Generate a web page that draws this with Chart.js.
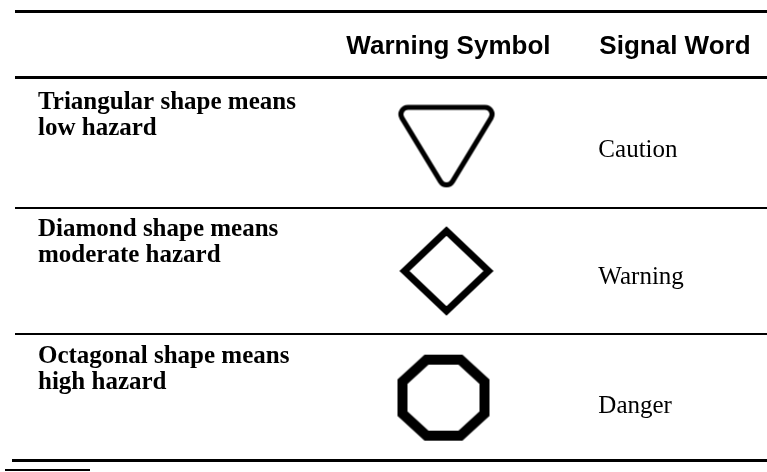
<!DOCTYPE html>
<html>
<head>
<meta charset="utf-8">
<script src="https://cdn.jsdelivr.net/npm/chart.js@4.4.0/dist/chart.umd.min.js"></script>
<style>
  html, body { margin: 0; padding: 0; background: #fff; }
  #wrap { width: 767px; height: 472px; position: relative; }
</style>
</head>
<body>
<div id="wrap"><canvas id="hazardChart"></canvas></div>
<script>
// table content
var headers = ['Warning Symbol', 'Signal Word'];
var hazardLines = [
    ['Triangular shape means', 'low hazard'],
    ['Diamond shape means', 'moderate hazard'],
    ['Octagonal shape means', 'high hazard']
];
var signalWords = ['Caution', 'Warning', 'Danger'];
var symbolShapes = ['triangle', 'diamond', 'octagon'];
var symbolColumn = 1;
var wordColumn = 2;

// SYMBOL IMAGES
function makeSymbol(shape) {
    var c = document.createElement('canvas');
    var g = c.getContext('2d');
    g.strokeStyle = '#000';
    if (shape === 'triangle') {
        c.width = 110; c.height = 100;
        g.lineWidth = 5;
        g.lineJoin = 'round';
        var pts = [[4, 14], [106, 14], [55, 98]];
        g.beginPath();
        g.moveTo(55, 14);
        for (var i = 1; i <= 3; i++) {
            var p = pts[i % 3], q = pts[(i + 1) % 3];
            g.arcTo(p[0], p[1], q[0], q[1], 7);
        }
        g.closePath();
        g.stroke();
    } else if (shape === 'diamond') {
        c.width = 100; c.height = 100;
        g.lineWidth = 7;
        g.lineJoin = 'miter';
        g.beginPath();
        g.moveTo(50, 11);
        g.lineTo(92, 51);
        g.lineTo(50, 91);
        g.lineTo(8, 51);
        g.closePath();
        g.stroke();
    } else {
        c.width = 104; c.height = 96;
        g.lineWidth = 10;
        g.lineJoin = 'miter';
        var rx = 41, ry = 38, ax = 17, ay = 16, cx = 49, cy = 49;
        g.beginPath();
        g.moveTo(cx - ax, cy - ry);
        g.lineTo(cx + ax, cy - ry);
        g.lineTo(cx + rx, cy - ay);
        g.lineTo(cx + rx, cy + ay);
        g.lineTo(cx + ax, cy + ry);
        g.lineTo(cx - ax, cy + ry);
        g.lineTo(cx - rx, cy + ay);
        g.lineTo(cx - rx, cy - ay);
        g.closePath();
        g.stroke();
    }
    return c;
}

function drawText(ctx, txt, x, y, font, align) {
    ctx.font = font;
    ctx.textAlign = align;
    ctx.textBaseline = 'alphabetic';
    ctx.fillText(txt, x, y);
}

// rules and text
var tablePlugin = {
    id: 'tableText',
    afterDraw: function (chart) {
        var ctx = chart.ctx;
        var xs = chart.scales.x, ys = chart.scales.y;
        var area = chart.chartArea;
        var W = chart.width;
        ctx.save();
        ctx.fillStyle = '#000';

        // horizontal rules
        ctx.fillRect(15, 10, W - 15, 3);
        ctx.fillRect(15, area.top - 4, W - 15, 3);
        ctx.fillRect(12, area.bottom - 1, W - 12, 3);
        ctx.fillRect(5, area.bottom + 9, 85, 2);
        var step = (area.bottom - area.top) / signalWords.length;
        for (var i = 1; i < signalWords.length; i++) {
            var yy = Math.round(ys.getPixelForValue(i) - step / 2);
            ctx.fillRect(15, yy, W - 15, 2);
        }

        // header
        var hFont = 'bold 26px "Liberation Sans", Arial, sans-serif';
        drawText(ctx, headers[0], xs.getPixelForValue(symbolColumn) + 2, 54, hFont, 'center');
        drawText(ctx, headers[1], xs.getPixelForValue(wordColumn) + 1, 54, hFont, 'left');

        // rows
        var lFont = 'bold 25px "Liberation Serif", "Times New Roman", serif';
        var wFont = '25px "Liberation Serif", "Times New Roman", serif';
        signalWords.forEach(function (word, i) {
            var cy = ys.getPixelForValue(i);
            hazardLines[i].forEach(function (line, j) {
                drawText(ctx, line, area.left + 23, cy - 34 + j * 26, lFont, 'left');
            });
            drawText(ctx, word, xs.getPixelForValue(wordColumn), cy + 14 + (i === 2 ? 2 : 0), wFont, 'left');
        });
        ctx.restore();
    }
};

var ctx = document.getElementById('hazardChart').getContext('2d');
window.hazardChart = new Chart(ctx, {
    type: 'scatter',
    data: {
        datasets: [{
            data: signalWords.map(function (w) { return { x: symbolColumn, y: w }; }),
            pointStyle: symbolShapes.map(makeSymbol),
            pointRadius: 40,
            pointHoverRadius: 40
        }]
    },
    options: {
        responsive: true,
        maintainAspectRatio: false,
        animation: false,
        events: [],
        layout: { autoPadding: false, padding: { top: 80, bottom: 12, left: 15, right: 0 } },
        plugins: {
            legend: { display: false },
            tooltip: { enabled: false }
        },
        scales: {
            x: { type: 'linear', min: -1.84, max: 3.11, display: false },
            y: { type: 'category', labels: signalWords, offset: true, display: false }
        }
    },
    plugins: [tablePlugin]
});
</script>
</body>
</html>
